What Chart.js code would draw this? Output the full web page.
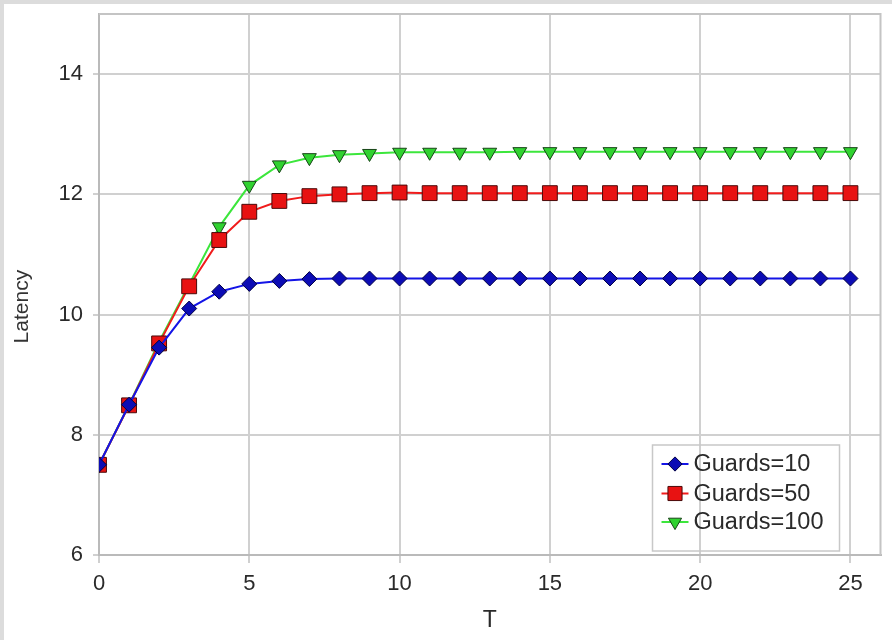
<!DOCTYPE html>
<html>
<head>
<meta charset="utf-8">
<script src="https://cdn.jsdelivr.net/npm/chart.js@4/dist/chart.umd.min.js"></script>
<style>
  html, body { margin: 0; padding: 0; background: #ffffff; }
  #wrap { position: relative; width: 892px; height: 640px; overflow: hidden; background: #ffffff; }
  #c { position: absolute; left: 0; top: 0; }
  .frameL { position: absolute; left: 0; top: 0; width: 4px; height: 640px; background: #dcdcdc; }
  .frameT { position: absolute; left: 0; top: 0; width: 892px; height: 4px; background: #dcdcdc; }
</style>
</head>
<body>
<div id="wrap">
  <canvas id="c" width="892" height="640"></canvas>
  <div class="frameL"></div>
  <div class="frameT"></div>
</div>
<script>
// ---- data ----
const T = [0,1,2,3,4,5,6,7,8,9,10,11,12,13,14,15,16,17,18,19,20,21,22,23,24,25];
const seriesLabels = ['Guards=10', 'Guards=50', 'Guards=100'];
const guards10 = [7.5, 8.5, 9.45, 10.1, 10.38, 10.51, 10.56, 10.59, 10.6, 10.6, 10.6, 10.6, 10.6, 10.6, 10.6, 10.6, 10.6, 10.6, 10.6, 10.6, 10.6, 10.6, 10.6, 10.6, 10.6, 10.6];
const guards50 = [7.5, 8.49, 9.52, 10.47, 11.24, 11.71, 11.89, 11.97, 12.0, 12.02, 12.03, 12.02, 12.02, 12.02, 12.02, 12.02, 12.02, 12.02, 12.02, 12.02, 12.02, 12.02, 12.02, 12.02, 12.02, 12.02];
const guards100 = [7.5, 8.5, 9.55, 10.5, 11.46, 12.15, 12.49, 12.61, 12.66, 12.68, 12.7, 12.7, 12.7, 12.7, 12.71, 12.71, 12.71, 12.71, 12.71, 12.71, 12.71, 12.71, 12.71, 12.71, 12.71, 12.71];
const xTicks = [0, 5, 10, 15, 20, 25];
const yTicks = [6, 8, 10, 12, 14];
const xTitle = 'T';
const yTitle = 'Latency';

const FONT = "'Liberation Sans', Arial, sans-serif";

function pts(vals) { return vals.map((v, i) => ({ x: T[i], y: v })); }

const datasets = [
  { label: seriesLabels[0], data: pts(guards10), borderColor: '#1414e6', backgroundColor: '#0c0cb4',
    pointBorderColor: '#000044', pointStyle: 'rectRot', pointRadius: 7.5, pointHoverRadius: 7.5, pointRotation: 0 },
  { label: seriesLabels[1], data: pts(guards50), borderColor: '#f01c1c', backgroundColor: '#e81212',
    pointBorderColor: '#4a0a0a', pointStyle: 'rect', pointRadius: 10.5, pointHoverRadius: 10.5, pointRotation: 0 },
  { label: seriesLabels[2], data: pts(guards100), borderColor: '#3ce63c', backgroundColor: '#30d230',
    pointBorderColor: '#174417', pointStyle: 'triangle', pointRadius: 8, pointHoverRadius: 8, pointRotation: 180 }
].map(d => Object.assign({ borderWidth: 2, pointBorderWidth: 1, tension: 0, fill: false }, d));

const frameAndLegend = {
  id: 'frameAndLegend',
  beforeDatasetsDraw(chart) {
    const { ctx, chartArea: a } = chart;
    ctx.save();
    ctx.strokeStyle = '#c4c4c4';
    ctx.lineWidth = 2;
    ctx.beginPath();
    ctx.moveTo(a.left, a.top); ctx.lineTo(a.right, a.top); ctx.lineTo(a.right, a.bottom);
    ctx.stroke();
    // y-axis title (placed like the reference, slightly below centre)
    ctx.translate(22, a.top + (a.bottom - a.top) * 0.515 + 14);
    ctx.rotate(-Math.PI / 2);
    ctx.fillStyle = '#333333';
    ctx.font = '21px ' + FONT;
    ctx.textAlign = 'center';
    ctx.textBaseline = 'middle';
    ctx.fillText(yTitle, 0, 0);
    ctx.restore();
  },
  afterDraw(chart) {
    const { ctx, chartArea: a } = chart;
    const w = 187, h = 106;
    const x0 = a.right - 41 - w, y0 = a.bottom - 4 - h;
    ctx.save();
    ctx.strokeStyle = '#c8c8c8';
    ctx.lineWidth = 1.5;
    ctx.strokeRect(x0, y0, w, h);
    const rows = [19, 48.5, 77];
    chart.data.datasets.forEach((ds, i) => {
      const y = y0 + rows[i];
      ctx.strokeStyle = ds.borderColor;
      ctx.lineWidth = 2;
      ctx.beginPath(); ctx.moveTo(x0 + 9, y); ctx.lineTo(x0 + 36, y); ctx.stroke();
      ctx.fillStyle = ds.backgroundColor;
      ctx.strokeStyle = ds.pointBorderColor;
      ctx.lineWidth = 1;
      Chart.helpers.drawPoint(ctx, { pointStyle: ds.pointStyle, radius: ds.pointRadius * 0.95, rotation: ds.pointRotation, borderWidth: 1 }, x0 + 22.5, y);
      ctx.fillStyle = '#2a2a2a';
      ctx.font = '23.5px ' + FONT;
      ctx.textBaseline = 'middle';
      ctx.textAlign = 'left';
      ctx.fillText(ds.label, x0 + 41, y + 1);
    });
    ctx.restore();
  }
};

new Chart(document.getElementById('c'), {
  type: 'line',
  data: { datasets },
  plugins: [frameAndLegend],
  options: {
    responsive: false,
    animation: false,
    events: [],
    layout: { padding: { top: 14, right: 9, left: 0, bottom: 0 } },
    plugins: { legend: { display: false }, tooltip: { enabled: false } },
    scales: {
      x: {
        type: 'linear', min: 0, max: 26,
        afterBuildTicks: s => { s.ticks = xTicks.map(v => ({ value: v })); },
        afterFit: s => { s.height = 85; s.paddingLeft = 0; s.paddingRight = 0; },
        grid: { color: '#d0d0d0', lineWidth: 2, tickLength: 8, drawTicks: true },
        border: { color: '#bababa', width: 2 },
        ticks: { color: '#2a2a2a', font: { family: FONT, size: 22 }, padding: 8, maxRotation: 0 },
        title: { display: true, text: xTitle, color: '#2a2a2a', font: { family: FONT, size: 23 }, padding: { top: 0, bottom: 6 } }
      },
      y: {
        type: 'linear', min: 6, max: 15,
        afterBuildTicks: s => { s.ticks = yTicks.map(v => ({ value: v })); },
        afterFit: s => { s.width = 99; s.paddingTop = 0; s.paddingBottom = 0; },
        grid: { color: '#d0d0d0', lineWidth: 2, tickLength: 6, drawTicks: true },
        border: { color: '#bababa', width: 2 },
        ticks: { color: '#2a2a2a', font: { family: FONT, size: 22 }, padding: 10 },
        title: { display: false }
      }
    }
  }
});
</script>
</body>
</html>
